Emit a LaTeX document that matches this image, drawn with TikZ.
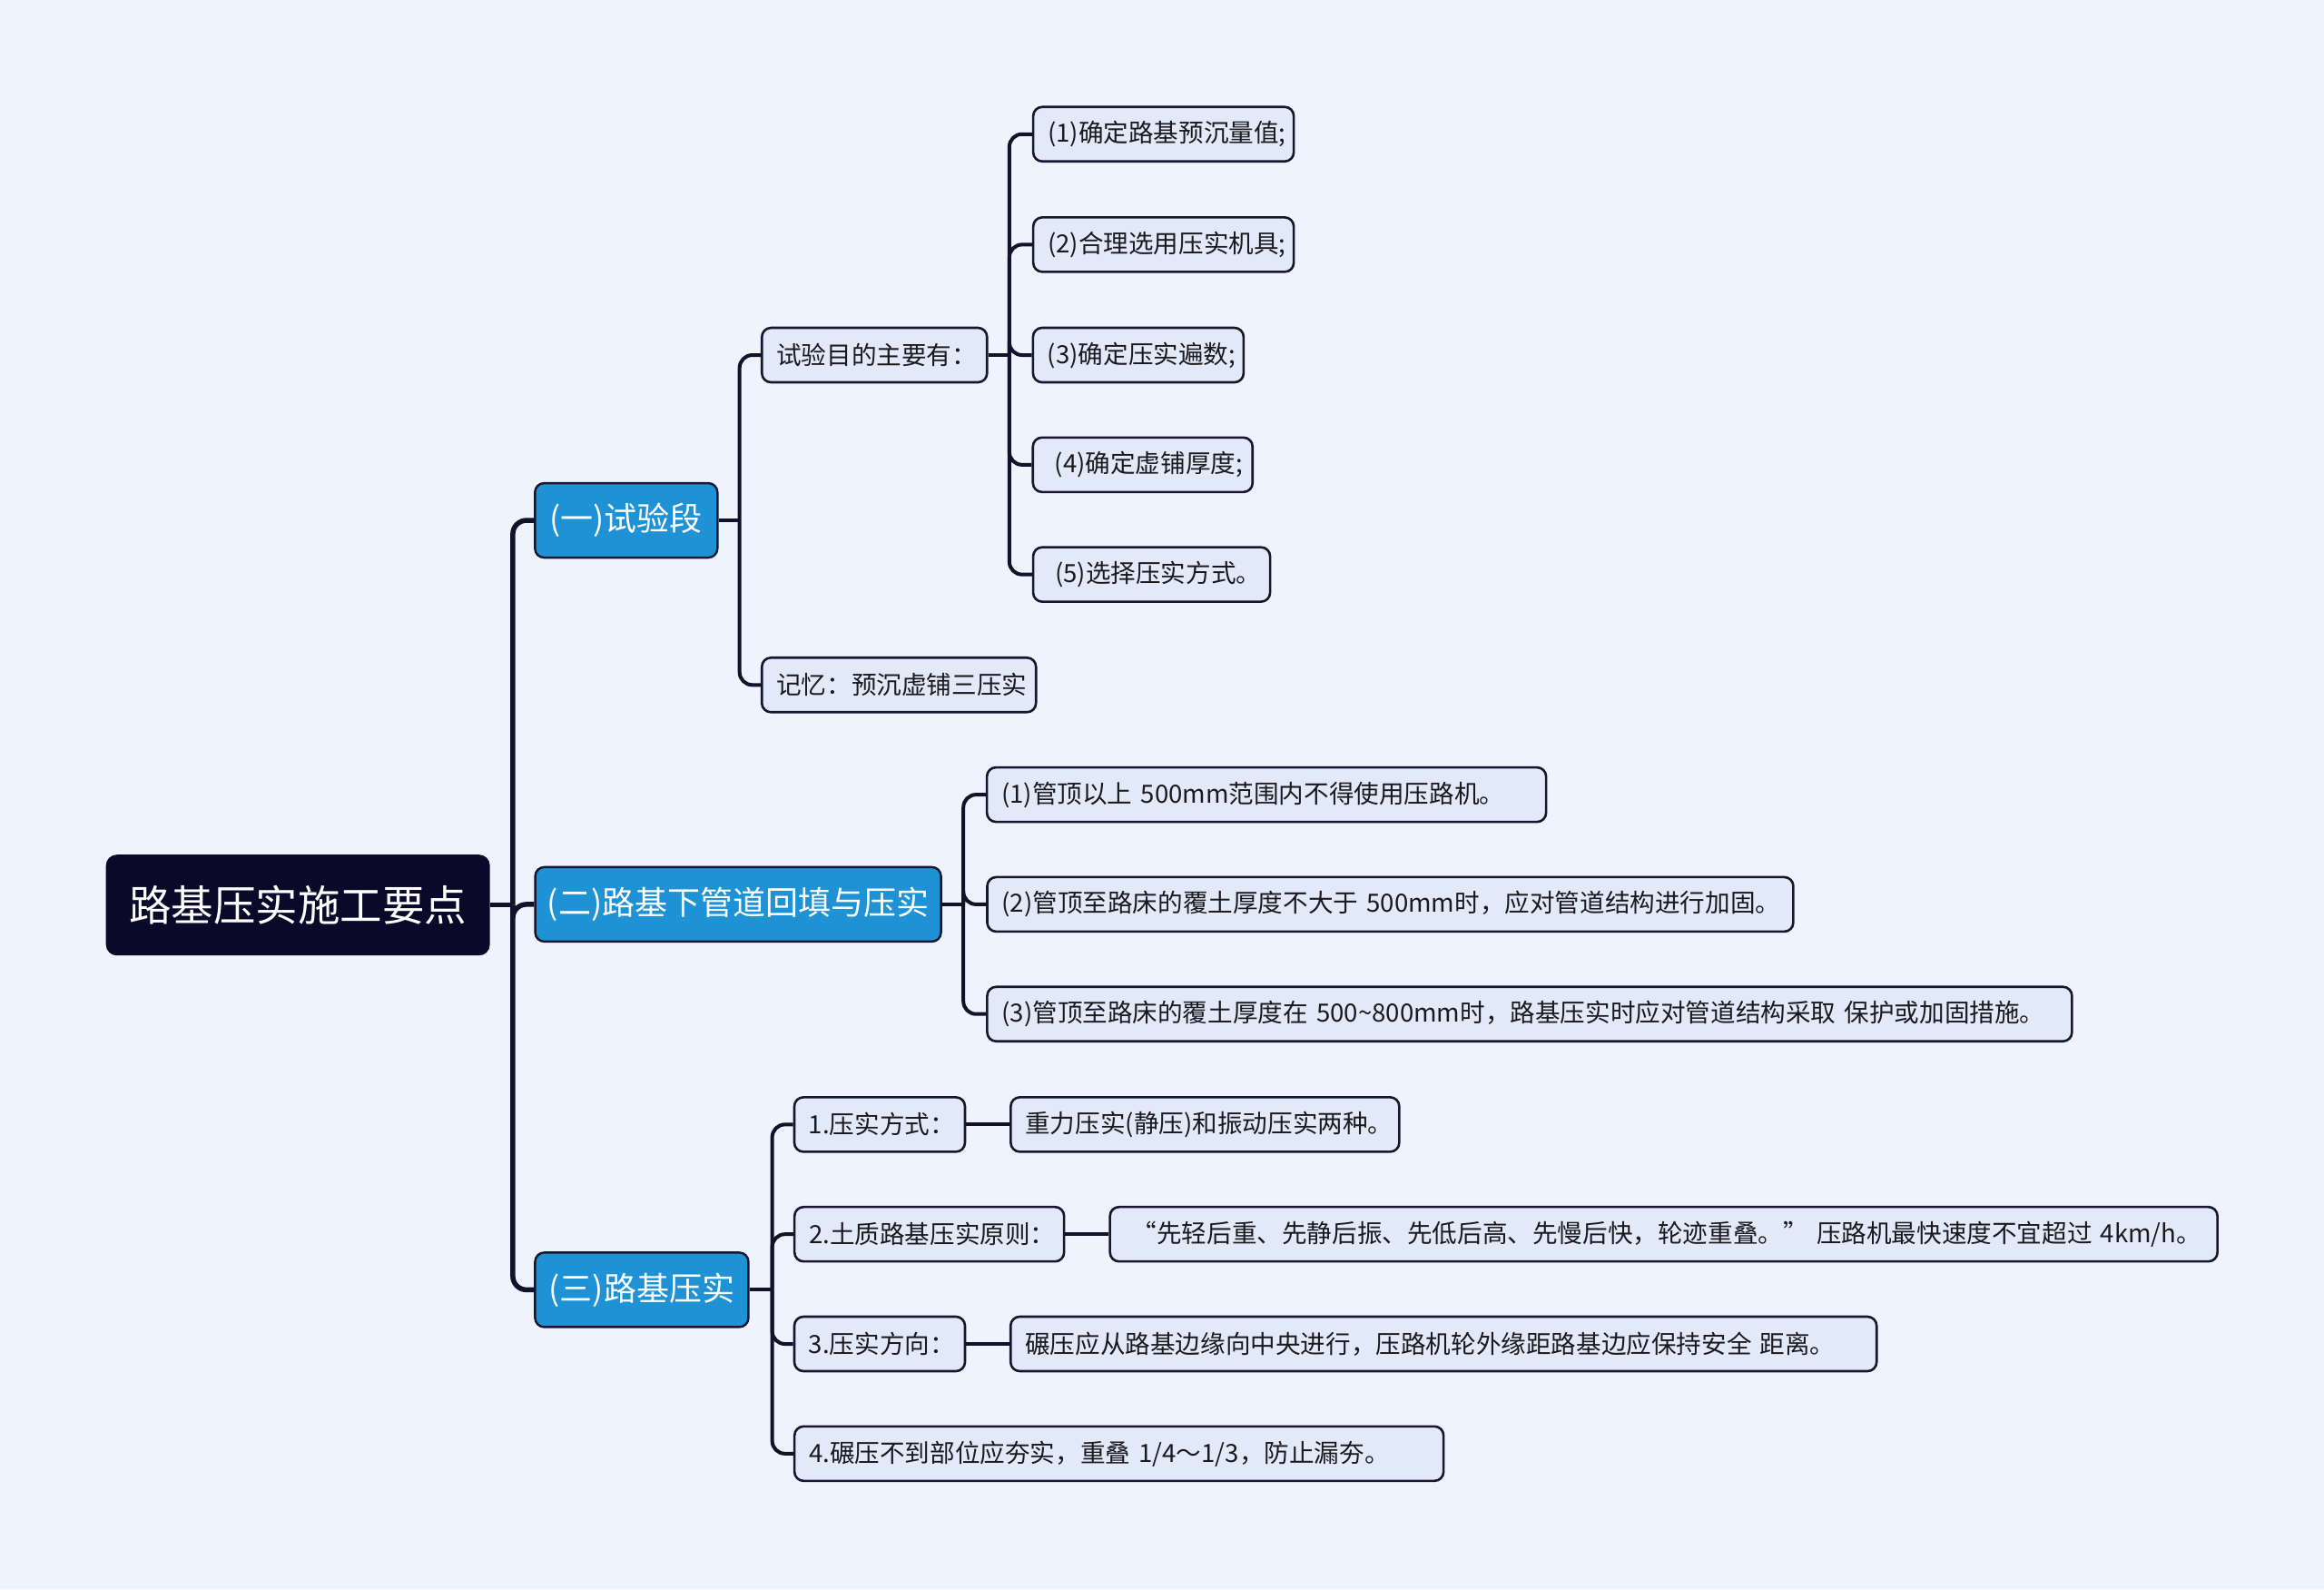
\documentclass[tikz,border=0pt]{standalone}
\usepackage{fontspec}
\setmainfont{Noto Sans CJK SC}
\definecolor{bgc}{RGB}{238,243,253}
\definecolor{lf}{RGB}{226,234,250}
\definecolor{bd}{RGB}{22,22,46}
\definecolor{lc}{RGB}{18,18,42}
\definecolor{bluef}{RGB}{30,146,212}
\definecolor{rootf}{RGB}{11,9,42}
\definecolor{tx}{RGB}{25,25,30}
\begin{document}
\begin{tikzpicture}[x=1.6327pt,y=-1.6327pt,
  conn/.style={draw=lc,line width=4pt,rounded corners=14pt},
  rconn/.style={draw=lc,line width=5.5pt,rounded corners=15pt},
  leaf/.style={draw=bd,fill=lf,line width=2.6pt,rounded corners=10pt,minimum height=60pt,inner xsep=16pt,inner ysep=0pt,text width=#1,align=left,font=\fontsize{27.6}{32}\selectfont,text=tx},
  mid/.style={draw=bd,fill=bluef,line width=2.4pt,rounded corners=10pt,minimum height=82pt,inner sep=0pt,font=\fontsize{36}{40}\selectfont,text=white},
  rootbox/.style={draw=rootf,fill=rootf,line width=2pt,rounded corners=11pt,minimum height=109pt,minimum width=421pt,inner sep=0pt,font=\fontsize{46.5}{50}\selectfont,text=white}]
\fill[bgc] (0,0) rectangle (1568,1072);
\useasboundingbox (0,0) rectangle (1568,1072);

% root and level 1
\node[rootbox] (R) at (201,610.5) {路基压实施工要点};
\node[mid,minimum width=201pt] (A) at (422.5,351) {(一)试验段};
\node[mid,minimum width=447pt] (B) at (498,610) {(二)路基下管道回填与压实};
\node[mid,minimum width=235pt] (C) at (433,870) {(三)路基压实};

% level 2 under A
\node[leaf=216pt] (A1) at (590,239.5) {试验目的主要有：};
\node[leaf=270pt] (A2) at (606.5,462) {记忆：预沉虚铺三压实};

% level 3 under A1
\node[leaf=255pt] (a1) at (785,90.5) {(1)确定路基预沉量值;};
\node[leaf=255pt] (a2) at (785,165) {(2)合理选用压实机具;};
\node[leaf=200pt] (a3) at (768,239.5) {(3)确定压实遍数;};
\node[leaf=210pt] (a4) at (771,313.5) {\hspace*{8pt}(4)确定虚铺厚度;};
\node[leaf=229pt] (a5) at (777,387.5) {\hspace*{8pt}(5)选择压实方式。};

% under B
\node[leaf=584pt] (b1) at (854.5,536) {(1)管顶以上 500mm范围内不得使用压路机。};
\node[leaf=856pt] (b2) at (938,610) {(2)管顶至路床的覆土厚度不大于 500mm时，应对管道结构进行加固。};
\node[leaf=1163pt] (b3) at (1032,684) {(3)管顶至路床的覆土厚度在 500\textasciitilde 800mm时，路基压实时应对管道结构采取 保护或加固措施。};

% under C
\node[leaf=156pt] (c1) at (593.5,758.5) {1.压实方式：};
\node[leaf=396pt] (c1x) at (813,758.5) {重力压实(静压)和振动压实两种。};
\node[leaf=265pt] (c2) at (627,832.5) {2.土质路基压实原则：};
\node[leaf=1188pt] (c2x) at (1122.5,832.5) {\mbox{\hspace*{8pt}“先轻后重、先静后振、先低后高、先慢后快，轮迹重叠。” 压路机最快速度不宜超过 4km/h。}};
\node[leaf=156pt] (c3) at (593.5,906.5) {3.压实方向：};
\node[leaf=922pt] (c3x) at (974,906.5) {碾压应从路基边缘向中央进行，压路机轮外缘距路基边应保持安全 距离。};
\node[leaf=683pt] (c4) at (755,980.5) {4.碾压不到部位应夯实，重叠 1/4～1/3，防止漏夯。};

% spine coordinates
\coordinate (sR) at (346,0);
\coordinate (sA) at (499,0);
\coordinate (sA1) at (681,0);
\coordinate (sB) at (650,0);
\coordinate (sC) at (521,0);

% root connectors
\draw[rconn] (R.east) -- (R.east -| sR);
\foreach \n in {A,B,C} \draw[rconn] (R.east -| sR) |- (\n.west);
% A
\draw[conn] (A.east) -- (A.east -| sA);
\foreach \n in {A1,A2} \draw[conn] (A.east -| sA) |- (\n.west);
% A1
\draw[conn] (A1.east) -- (A1.east -| sA1);
\foreach \n in {a1,a2,a3,a4,a5} \draw[conn] (A1.east -| sA1) |- (\n.west);
% B
\draw[conn] (B.east) -- (B.east -| sB);
\foreach \n in {b1,b2,b3} \draw[conn] (B.east -| sB) |- (\n.west);
% C
\draw[conn] (C.east) -- (C.east -| sC);
\foreach \n in {c1,c2,c3,c4} \draw[conn] (C.east -| sC) |- (\n.west);
\draw[conn] (c1.east) -- (c1x.west);
\draw[conn] (c2.east) -- (c2x.west);
\draw[conn] (c3.east) -- (c3x.west);
\end{tikzpicture}
\end{document}
